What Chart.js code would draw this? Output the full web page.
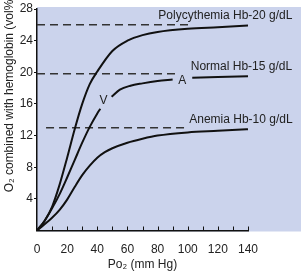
<!DOCTYPE html>
<html>
<head>
<meta charset="utf-8">
<style>
  html, body { margin: 0; padding: 0; background: #fff; }
  #container { width: 301px; height: 272px; }
</style>
<script src="https://cdn.jsdelivr.net/npm/chart.js@4.4.1/dist/chart.umd.min.js"></script>
</head>
<body>
<div id="container"><canvas id="app"></canvas></div>
<script>
const po2Polycythemia = [0, 5, 10, 15, 20, 25, 30, 35, 40, 50, 60, 70, 80, 100, 120, 140]
const o2Polycythemia = [0, 1.2, 3.0, 5.8, 9.2, 12.8, 16, 18.5, 20.1, 22.7, 24, 24.7, 25.1, 25.5, 25.7, 25.9]

const po2Normal = [0, 5, 10, 15, 20, 25, 30, 35, 40, 42, 46, 49.5, 55, 62, 70, 80, 90, 96, 103, 120, 140]
const o2Normal = [0, 1.2, 2.8, 4.6, 6.7, 8.9, 11.1, 13.1, 14.8, 15.4, null, 16.9, 17.8, 18.3, 18.6, 18.9, 19.1, null, 19.3, 19.4, 19.5]

const po2Anemia = [0, 10, 15, 20, 25, 30, 35, 40, 45, 50, 60, 70, 80, 100, 120, 140]
const o2Anemia = [0, 1.6, 2.6, 3.9, 5.5, 7.0, 8.2, 9.2, 9.9, 10.4, 11.1, 11.6, 12.0, 12.4, 12.6, 12.8]

// capacity levels (dashed) for each hemoglobin value
const capacityLevels = [26, 19.8, 13]
const capacityFrom = [0, 0, 6]
const capacityTo = [103, 92, 100]

const curveNames = ['Polycythemia Hb-20 g/dL', 'Normal Hb-15 g/dL', 'Anemia Hb-10 g/dL']
const pointNames = ['V', 'A']

const xTicks = [0, 20, 40, 60, 80, 100, 120, 140]
const yTicks = [4, 8, 12, 16, 20, 24, 28]

const FONT = '"Liberation Sans", Arial, sans-serif'

function pairs(xs, ys) {
  return xs.map((x, i) => ({ x: x, y: ys[i] }))
}

function curve(xs, ys) {
  return {
    data: pairs(xs, ys),
    borderColor: '#111',
    borderWidth: 2,
    pointRadius: 0,
    cubicInterpolationMode: 'monotone',
    spanGaps: false
  }
}

const datasets = [
  curve(po2Polycythemia, o2Polycythemia),
  curve(po2Normal, o2Normal),
  curve(po2Anemia, o2Anemia)
]

capacityLevels.forEach((lvl, i) => {
  datasets.push({
    data: [{ x: capacityFrom[i], y: lvl }, { x: capacityTo[i], y: lvl }],
    borderColor: '#333',
    borderWidth: 1.5,
    borderDash: [8, 5],
    pointRadius: 0
  })
})

const backdrop = {
  id: 'backdrop',
  beforeDraw(chart) {
    const { ctx, chartArea } = chart
    ctx.save()
    ctx.fillStyle = 'rgb(203,211,236)'
    ctx.fillRect(chartArea.left, chartArea.top - 2, chart.width - chartArea.left, chartArea.bottom - chartArea.top + 3)
    ctx.restore()
  }
}

const annotations = {
  id: 'annotations',
  afterDraw(chart) {
    const { ctx, chartArea } = chart
    const xs = chart.scales.x
    const ys = chart.scales.y
    ctx.save()

    // x ticks every 10, pointing into the plot
    ctx.strokeStyle = '#111'
    ctx.lineWidth = 1
    for (let v = 10; v <= 140; v += 10) {
      const px = Math.round(xs.getPixelForValue(v)) + 0.5
      ctx.beginPath()
      ctx.moveTo(px, chartArea.bottom)
      ctx.lineTo(px, chartArea.bottom - 4)
      ctx.stroke()
    }

    ctx.fillStyle = '#222'
    ctx.font = '12px ' + FONT
    ctx.textBaseline = 'middle'
    ctx.textAlign = 'left'
    ctx.fillText(curveNames[0], xs.getPixelForValue(80.5), ys.getPixelForValue(27.1))
    ctx.fillText(curveNames[1], xs.getPixelForValue(102), ys.getPixelForValue(20.7))
    ctx.fillText(curveNames[2], xs.getPixelForValue(101), ys.getPixelForValue(14.0))

    ctx.textAlign = 'center'
    ctx.fillText(pointNames[0], xs.getPixelForValue(44.2), ys.getPixelForValue(16.4))
    ctx.fillText(pointNames[1], xs.getPixelForValue(96.4), ys.getPixelForValue(19.0))

    // axis titles
    ctx.fillText('Po\u2082 (mm Hg)', (xs.getPixelForValue(0) + xs.getPixelForValue(140)) / 2, 265)
    ctx.translate(10, 94)
    ctx.rotate(-Math.PI / 2)
    ctx.fillText('O\u2082 combined with hemoglobin (vol%)', 0, 0)
    ctx.restore()
  }
}

new Chart(document.getElementById('app'), {
  type: 'line',
  data: { datasets: datasets },
  options: {
    responsive: true,
    maintainAspectRatio: false,
    animation: false,
    layout: { padding: { top: 9, right: 53, left: 0, bottom: 0 } },
    plugins: { legend: { display: false }, tooltip: { enabled: false } },
    scales: {
      x: {
        type: 'linear',
        min: 0,
        max: 140,
        afterFit(scale) { scale.height = 41.5 },
        afterBuildTicks(scale) { scale.ticks = xTicks.map(v => ({ value: v })) },
        grid: { display: false },
        border: { display: true, color: '#111', width: 1.5 },
        ticks: { color: '#222', font: { family: FONT, size: 12 }, padding: 4, maxRotation: 0 }
      },
      y: {
        type: 'linear',
        min: 0,
        max: 28,
        afterFit(scale) { scale.width = 37 },
        afterBuildTicks(scale) { scale.ticks = yTicks.map(v => ({ value: v })) },
        grid: { display: true, drawOnChartArea: false, tickLength: 3, color: '#111' },
        border: { display: true, color: '#111', width: 1.5 },
        ticks: { color: '#222', font: { family: FONT, size: 12 }, padding: 1 }
      }
    }
  },
  plugins: [backdrop, annotations]
})
</script>
</body>
</html>
